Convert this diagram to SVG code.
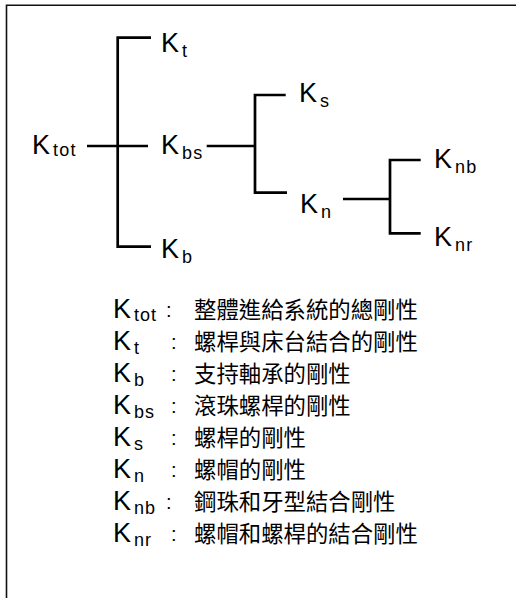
<svg xmlns="http://www.w3.org/2000/svg" width="516" height="598" viewBox="0 0 516 598">
<style>
.k{font-family:"Liberation Sans",Arial,sans-serif;font-size:27px;fill:#000}
.s{font-size:18px;letter-spacing:1.2px}
.lk{font-family:"Liberation Sans",Arial,sans-serif;font-size:27px;fill:#000}
.ls{font-size:18px;letter-spacing:1px}
.c{font-family:"Liberation Sans",Arial,sans-serif;font-size:20px;fill:#000}
.zh{font-family:"Noto Sans CJK TC","Noto Sans CJK SC",sans-serif;font-size:22.4px;fill:#000}
.ln{stroke:#000;stroke-width:2.7;fill:none;stroke-linecap:butt}
</style>
<rect width="516" height="598" fill="#fff"/>
<g id="frame"><path d="M6.5 598V5.2H516" stroke="#111" stroke-width="1.6" fill="none"/></g>
<g id="connectors" class="ln">
<path d="M151 37.7H117.7V246.7H151"/>
<path d="M87 146H148"/>
<path d="M206.7 146H255"/>
<path d="M285.7 95H255V192.7H287"/>
<path d="M343 199H390"/>
<path d="M420.7 160H390V233.3H420.7"/>
</g>
<g id="Ktot"><text class="k" x="32" y="154">K<tspan class="s" dx="3" dy="2">tot</tspan></text></g>
<g id="Kt"><text class="k" x="161" y="52">K<tspan class="s" dx="3" dy="5">t</tspan></text></g>
<g id="Kbs"><text class="k" x="161" y="154">K<tspan class="s" dx="3" dy="5">bs</tspan></text></g>
<g id="Kb"><text class="k" x="161" y="258">K<tspan class="s" dx="3" dy="5">b</tspan></text></g>
<g id="Ks"><text class="k" x="299" y="102">K<tspan class="s" dx="3" dy="5">s</tspan></text></g>
<g id="Kn"><text class="k" x="300" y="213">K<tspan class="s" dx="3" dy="5">n</tspan></text></g>
<g id="Knb"><text class="k" x="434" y="168">K<tspan class="s" dx="3" dy="5">nb</tspan></text></g>
<g id="Knr"><text class="k" x="434" y="246">K<tspan class="s" dx="3" dy="5">nr</tspan></text></g>
<g id="legend">
<text class="lk" x="113" y="318">K<tspan class="ls" dx="3" dy="3">tot</tspan></text><text class="c" x="166" y="317">:</text><text class="zh" x="194" y="318">整體進給系統的總剛性</text>
<text class="lk" x="113" y="350">K<tspan class="ls" dx="3" dy="4">t</tspan></text><text class="c" x="171" y="349">:</text><text class="zh" x="194" y="350">螺桿與床台結合的剛性</text>
<text class="lk" x="113" y="382">K<tspan class="ls" dx="3" dy="4">b</tspan></text><text class="c" x="171" y="381">:</text><text class="zh" x="194" y="382">支持軸承的剛性</text>
<text class="lk" x="113" y="414">K<tspan class="ls" dx="3" dy="4">bs</tspan></text><text class="c" x="171" y="413">:</text><text class="zh" x="194" y="414">滾珠螺桿的剛性</text>
<text class="lk" x="113" y="446">K<tspan class="ls" dx="3" dy="4">s</tspan></text><text class="c" x="171" y="445">:</text><text class="zh" x="194" y="446">螺桿的剛性</text>
<text class="lk" x="113" y="478">K<tspan class="ls" dx="3" dy="4">n</tspan></text><text class="c" x="171" y="477">:</text><text class="zh" x="194" y="478">螺帽的剛性</text>
<text class="lk" x="113" y="510">K<tspan class="ls" dx="3" dy="4">nb</tspan></text><text class="c" x="166" y="509">:</text><text class="zh" x="194" y="510">鋼珠和牙型結合剛性</text>
<text class="lk" x="113" y="542">K<tspan class="ls" dx="3" dy="4">nr</tspan></text><text class="c" x="171" y="541">:</text><text class="zh" x="194" y="542">螺帽和螺桿的結合剛性</text>
</g>
</svg>
